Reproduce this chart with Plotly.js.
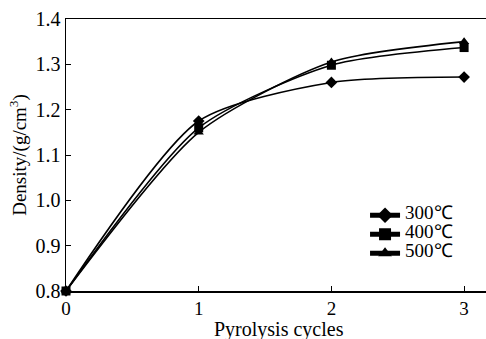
<!DOCTYPE html>
<html><head><meta charset="utf-8">
<script src="https://cdn.plot.ly/plotly-3.0.1.min.js"></script>
<style>html,body{margin:0;padding:0;background:#fff}#c{width:486px;height:339px}</style>
</head><body><div id="c"></div>
<script>
const cycles = [0, 1, 2, 3];
const d300 = [0.80, 1.175, 1.26, 1.272];
const d400 = [0.80, 1.160, 1.298, 1.337];
const d500 = [0.80, 1.150, 1.305, 1.350];
const names = ['300℃', '400℃', '500℃'];
const symbols = ['diamond', 'square', 'triangle-up'];
const xTitle = 'Pyrolysis cycles';
const yTitle = 'Density/(g/cm<sup>3</sup>)';
const serif = "'Liberation Serif', 'Times New Roman', serif";

const series = [d300, d400, d500];
const traces = series.map((ys, i) => ({
  x: cycles, y: ys, type: 'scatter', mode: 'lines+markers',
  name: '<span style="font-size:19px">' + names[i] + '</span>',
  line: {color: '#000', width: 1.6, shape: 'spline', smoothing: 0.7},
  marker: {symbol: symbols[i], size: 9, color: '#000'},
  cliponaxis: false
}));

const layout = {
  width: 486, height: 339,
  margin: {l: 66, r: 0, t: 19, b: 48},
  paper_bgcolor: '#fff', plot_bgcolor: '#fff',
  font: {family: serif, size: 20, color: '#000'},
  showlegend: true,
  legend: {x: 0.712, y: 0.332, xanchor: 'left', yanchor: 'top', bgcolor: 'rgba(0,0,0,0)',
           font: {family: serif, size: 11, color: '#000'}, tracegroupgap: 0, itemsizing: 'constant'},
  xaxis: {range: [0, 3.165], tickvals: cycles, ticktext: ['0','1','2','3'],
          showgrid: false, zeroline: false, showline: true, linecolor: '#000', linewidth: 1.5,
          mirror: true, ticks: 'inside', ticklen: 5, tickwidth: 1, tickcolor: '#000',
          tickfont: {family: serif, size: 19}},
  yaxis: {range: [0.8, 1.4], tickvals: [0.8,0.9,1.0,1.1,1.2,1.3,1.4],
          ticktext: ['0.8','0.9','1.0','1.1','1.2','1.3','1.4'],
          showgrid: false, zeroline: false, showline: true, linecolor: '#000', linewidth: 1.5,
          ticks: 'inside', ticklen: 5, tickwidth: 1, tickcolor: '#000',
          tickfont: {family: serif, size: 20},
          title: {text: yTitle, font: {family: serif, size: 19}, standoff: 4}},
  annotations: [{text: xTitle, xref: 'paper', yref: 'paper', x: 0.507, y: -0.097,
                 xanchor: 'center', yanchor: 'top', showarrow: false, borderpad: 0,
                 font: {family: serif, size: 20, color: '#000'}}]
};
Plotly.newPlot('c', traces, layout, {staticPlot: true});
</script></body></html>
